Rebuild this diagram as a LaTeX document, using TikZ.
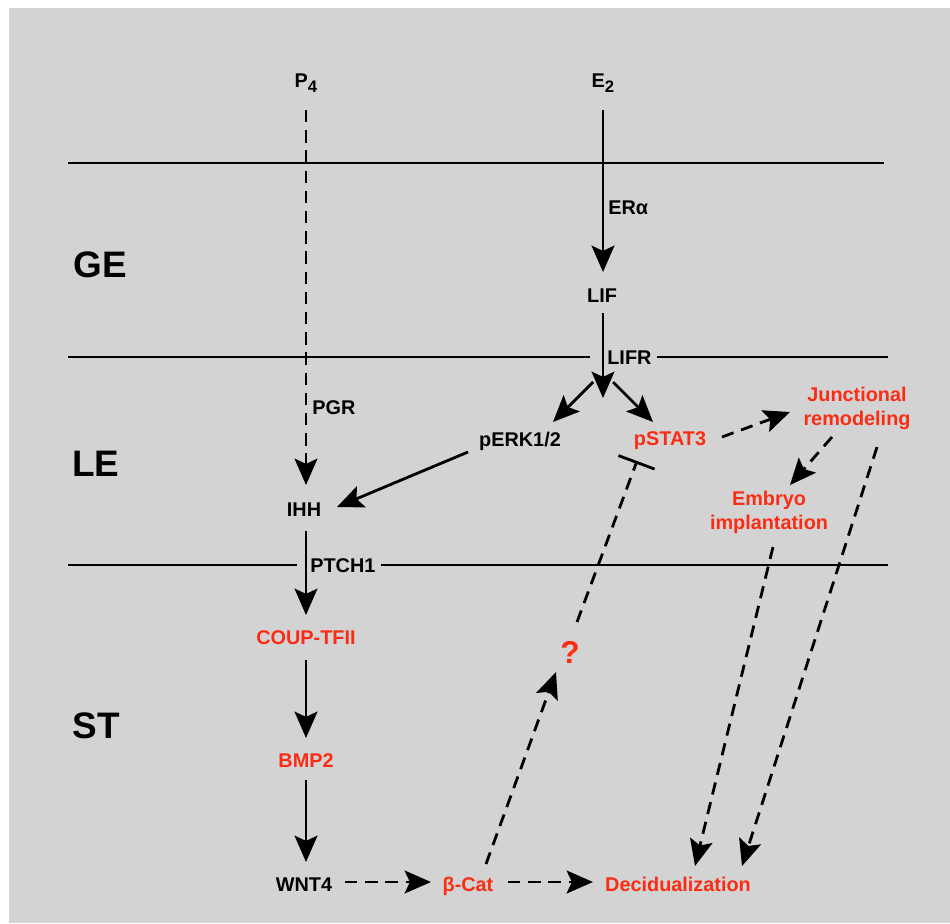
\documentclass[tikz,border=0pt]{standalone}
\usepackage{fontspec}
\setmainfont{Liberation Sans}
\usetikzlibrary{arrows.meta,calc}
\definecolor{bg}{RGB}{211,211,211}
\definecolor{rd}{RGB}{250,45,20}
\newcommand{\lowsub}[1]{\raisebox{-3.2pt}{\fontsize{9.5}{11}\selectfont #1}}
\begin{document}
\begin{tikzpicture}[x=0.02cm,y=-0.02cm,
  lbl/.style={font=\fontsize{11.3}{13}\selectfont\bfseries, inner sep=0pt, text height=8.1pt, text depth=0pt},
  ml/.style={font=\fontsize{11.3}{13.7}\selectfont\bfseries, inner sep=0pt, align=center},
  big/.style={font=\fontsize{21}{24}\selectfont\bfseries, inner sep=0pt},
  qm/.style={font=\fontsize{18}{20}\selectfont\bfseries, inner sep=0pt, text=rd},
  hl/.style={line width=1.5pt},
  sol/.style={line width=1.6pt, -{Stealth[length=15pt,width=13pt,inset=3pt]}},
  dsh/.style={sol, dash pattern=on 7pt off 4.5pt}]
\useasboundingbox (0,0) rectangle (950,923);
\fill[bg] (9,8) rectangle (950,923);

% region labels
\node[big] (GE) at (100,265) {GE};
\node[big] (LE) at (96,464) {LE};
\node[big] (ST) at (96,726) {ST};

% nodes
\node[lbl, anchor=base] (P4) at (306,87) {P\lowsub{4}};
\node[lbl, anchor=base] (E2) at (603,87) {E\lowsub{2}};
\node[lbl, anchor=west] (ERa) at (608,207) {ERα};
\node[lbl] (LIF) at (602,295) {LIF};
\node[lbl, anchor=west] (LIFR) at (607,357) {LIFR};
\node[lbl, anchor=west] (PGR) at (312,407) {PGR};
\node[lbl] (pERK) at (520,439) {pERK1/2};
\node[lbl, text=rd] (pSTAT) at (670,438) {pSTAT3};
\node[ml, text=rd] (JR) at (857,408) {Junctional\\remodeling};
\node[ml, text=rd] (EI) at (769,512) {Embryo\\implantation};
\node[lbl] (IHH) at (304,509) {IHH};
\node[lbl, anchor=west] (PTCH) at (310,565) {PTCH1};
\node[lbl, text=rd] (COUP) at (306,637) {COUP-TFII};
\node[lbl, text=rd] (BMP) at (306,760) {BMP2};
\node[lbl] (WNT) at (304,884) {WNT4};
\node[lbl, text=rd] (BCAT) at (468,884) {β-Cat};
\node[lbl, text=rd] (DEC) at (678,884) {Decidualization};
\node[qm] (Q) at (570,652) {?};

\coordinate (fork) at (603,398);
\coordinate (forkL) at (593,382);
\coordinate (forkR) at (613,382);

% compartment lines
\draw[hl] (68,163) -- (884,163);
\draw[hl] (68,357) -- ($(LIFR.west)+(-17,0)$);
\draw[hl] ($(LIFR.east)+(5,0)$) -- (888,357);
\draw[hl] (68,565) -- ($(PTCH.west)+(-13,0)$);
\draw[hl] ($(PTCH.east)+(5,0)$) -- (888,565);

% connectors
\draw[sol] ($(E2.base)+(0,23)$) -- ($(E2.base |- LIF.center)+(0,-23)$);
\draw[sol] ($(LIF.center)+(1,18)$) -- (fork);
\draw[sol] (forkL) -- ($(pERK.center)+(33,-17)$);
\draw[sol] (forkR) -- ($(pSTAT.center)+(-17,-16)$);
\draw[sol] ($(pERK.center)+(-52,13)$) -- ($(IHH.center)+(33,-2)$);
\draw[dsh] ($(P4.base)+(0,23)$) -- ($(P4.base |- IHH.center)+(0,-24)$);
\draw[sol] ($(IHH.center)+(2,22)$) -- ($(COUP.center)+(0,-22)$);
\draw[sol] ($(COUP.center)+(0,23)$) -- ($(BMP.center)+(0,-22)$);
\draw[sol] ($(BMP.center)+(0,20)$) -- ($(BMP.center |- WNT.center)+(0,-22)$);
\draw[dsh] ($(WNT.center)+(41,-2)$) -- ($(BCAT.center)+(-37,-2)$);
\draw[dsh] ($(BCAT.center)+(40,-2)$) -- ($(DEC.center)+(-85,-2)$);
\draw[dsh] ($(BCAT.center)+(18,-20)$) -- ($(Q.center)+(-14,20)$);
\draw[dsh, -{Bar[width=22pt]}] ($(Q.center)+(7,-30)$) -- ($(pSTAT.center)+(-33,23)$);
\draw[dsh] ($(pSTAT.center)+(52,-1)$) -- ($(JR.center)+(-67,4)$);
\draw[dsh] ($(JR.center)+(-25,29)$) -- ($(EI.center)+(21,-27)$);
\draw[dsh] ($(JR.center)+(20,39)$) -- ($(DEC.center)+(64,-18)$);
\draw[dsh] ($(EI.center)+(4,35)$) -- ($(DEC.center)+(17,-18)$);
\end{tikzpicture}
\end{document}
